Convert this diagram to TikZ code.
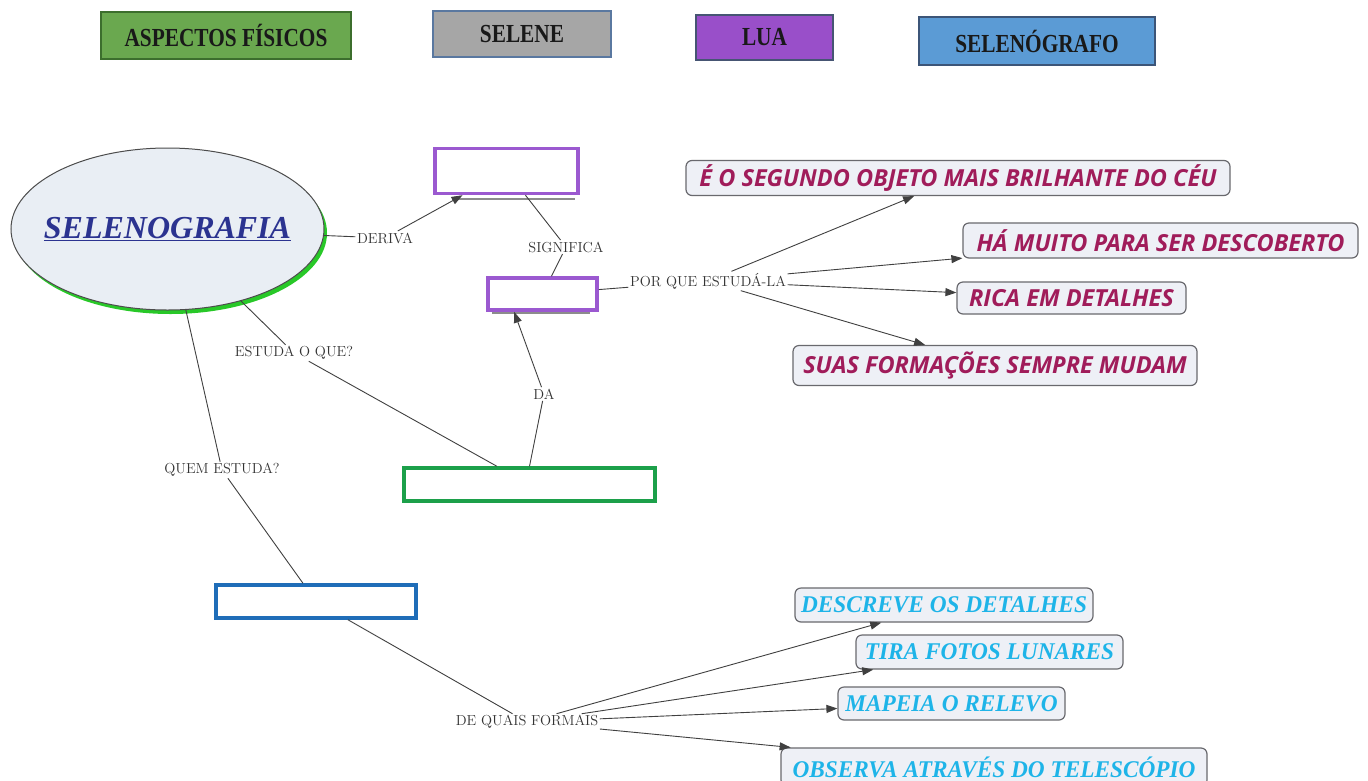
\documentclass[tikz,border=0pt]{standalone}
\usepackage{fontspec}
\usetikzlibrary{arrows.meta,calc,shapes.geometric,shadows}
\newfontfamily\legfont[FakeStretch=0.82]{Liberation Serif}
\newfontfamily\magfont{Open Sans}
\newfontfamily\cyfont[FakeStretch=0.97]{Liberation Serif}
\newfontfamily\titfont{Liberation Serif}
\definecolor{leggreen}{RGB}{106,168,79}
\definecolor{leggreenb}{RGB}{60,110,45}
\definecolor{leggray}{RGB}{166,166,166}
\definecolor{leggrayb}{RGB}{90,120,160}
\definecolor{legpurp}{RGB}{153,79,201}
\definecolor{legpurpb}{RGB}{70,85,115}
\definecolor{legblue}{RGB}{91,155,213}
\definecolor{legblueb}{RGB}{60,85,120}
\definecolor{ellfill}{RGB}{233,238,244}
\definecolor{titblue}{RGB}{43,51,144}
\definecolor{ellshadow}{RGB}{40,200,40}
\definecolor{purpline}{RGB}{155,89,208}
\definecolor{greenline}{RGB}{28,160,74}
\definecolor{blueline}{RGB}{31,109,184}
\definecolor{magtext}{RGB}{160,28,90}
\definecolor{cytext}{RGB}{30,180,232}
\definecolor{boxfill}{RGB}{238,240,246}
\definecolor{boxline}{RGB}{105,105,110}
\begin{document}
\begin{tikzpicture}[x=1pt,y=-1pt,
  legbox/.style={draw, line width=2pt, inner sep=0pt, text=black!90,
     font=\legfont\bfseries\fontsize{26}{26}\selectfont},
  emptybox/.style={draw, line width=3.5pt, fill=white, inner sep=0pt},
  magbox/.style={draw=boxline, fill=boxfill, line width=1.2pt, rounded corners=6pt,
     minimum height=35pt, inner xsep=6pt, text=magtext,
     font=\magfont\bfseries\itshape\fontsize{23.5}{23.5}\selectfont},
  cybox/.style={draw=boxline, fill=boxfill, line width=1.2pt, rounded corners=6pt,
     minimum height=34pt, inner xsep=6pt, text=cytext,
     font=\cyfont\bfseries\itshape\fontsize{24}{24}\selectfont},
  lbl/.style={inner sep=1.5pt, text=black!80, font=\fontsize{14.5}{14.5}\selectfont},
  conn/.style={draw=black!75, line width=0.9pt},
  arr/.style={conn, -{Triangle[length=11pt,width=8pt]}}
]
\useasboundingbox (0,0) rectangle (1368,780);
\fill[white] (0,0) rectangle (1368,780);

% legend
\node[legbox, fill=leggreen, draw=leggreenb, minimum width=250pt, minimum height=47pt] (lg1) at (226,35.5) {ASPECTOS FÍSICOS};
\node[legbox, fill=leggray, draw=leggrayb, minimum width=178pt, minimum height=46pt] (lg2) at (522,34) {SELENE};
\node[legbox, fill=legpurp, draw=legpurpb, minimum width=137pt, minimum height=45pt] (lg3) at (764.5,37.5) {LUA};
\node[legbox, fill=legblue, draw=legblueb, minimum width=236pt, minimum height=48pt] (lg4) at (1037,41) {SELENÓGRAFO};

% main ellipse
\node[ellipse, draw=black!70, line width=1pt, fill=ellfill, inner sep=0pt,
  minimum width=313pt, minimum height=162pt,
  drop shadow={fill=ellshadow, shadow xshift=3pt, shadow yshift=-4pt, opacity=1},
  label={[text=titblue, font=\titfont\bfseries\itshape\fontsize{32}{32}\selectfont]center:\underline{SELENOGRAFIA}}] (ell) at (167.5,229) {};

% empty boxes
\draw[black!45, line width=2pt] (452,199) -- (575,199);
\draw[black!45, line width=1.5pt] (492,313) -- (590,313);
\node[emptybox, draw=purpline, minimum width=143pt, minimum height=45pt] (b1) at (506.5,171) {};
\node[emptybox, draw=purpline, minimum width=109pt, minimum height=32pt] (b2) at (542.5,294) {};
\node[emptybox, draw=greenline, minimum width=251pt, minimum height=33pt] (gbox) at (529.5,484.5) {};
\node[emptybox, draw=blueline, minimum width=200pt, minimum height=33pt] (bbox) at (316,601.5) {};

% magenta boxes
\node[magbox, minimum width=544pt] (m1) at (958,178) {É O SEGUNDO OBJETO MAIS BRILHANTE DO CÉU};
\node[magbox, minimum width=395pt] (m2) at (1160.5,240.5) {HÁ MUITO PARA SER DESCOBERTO};
\node[magbox, minimum width=229pt, minimum height=32pt] (m3) at (1071.5,298) {RICA EM DETALHES};
\node[magbox, minimum width=404pt, minimum height=40pt] (m4) at (995,365.5) {SUAS FORMAÇÕES SEMPRE MUDAM};

% cyan boxes
\node[cybox, minimum width=298pt] (c1) at (944,605) {DESCREVE OS DETALHES};
\node[cybox, minimum width=267pt] (c2) at (989.5,652) {TIRA FOTOS LUNARES};
\node[cybox, minimum width=227pt, minimum height=33pt] (c3) at (951.5,703.5) {MAPEIA O RELEVO};
\node[cybox, minimum width=426pt, minimum height=38pt] (c4) at (994,767) {OBSERVA ATRAVÉS DO TELESCÓPIO};

% link labels
\node[lbl] (deriva) at (385,238) {DERIVA};
\node[lbl] (signif) at (566,247) {SIGNIFICA};
\node[lbl] (porque) at (708,281) {POR QUE ESTUDÁ-LA};
\node[lbl] (estuda) at (294,353) {ESTUDA O QUE?};
\node[lbl] (da) at (544,394) {DA};
\node[lbl] (quem) at (222,470) {QUEM ESTUDA?};
\node[lbl] (dequais) at (527,722) {DE QUAIS FORMAIS};

% connectors
\draw[conn] (ell) -- (deriva);
\draw[arr] (deriva) -- (b1);
\draw[conn] (b1) -- (signif) -- (b2);
\draw[conn] (b2) -- (porque);
\draw[arr] (porque) -- (m1);
\draw[arr] (porque) -- (m2);
\draw[arr] (porque) -- (m3);
\draw[arr] (porque) -- (m4);
\draw[conn] (ell) -- (estuda) -- (gbox);
\draw[conn] (gbox.north) -- (da);
\draw[arr] (da) -- (b2.-148);
\draw[conn] (ell) -- (quem) -- (bbox);
\draw[conn] (bbox) -- (dequais);
\draw[arr] (dequais) -- (c1);
\draw[arr] (dequais) -- (c2);
\draw[arr] (dequais) -- (c3);
\draw[arr] (dequais) -- (c4);
\end{tikzpicture}
\end{document}
